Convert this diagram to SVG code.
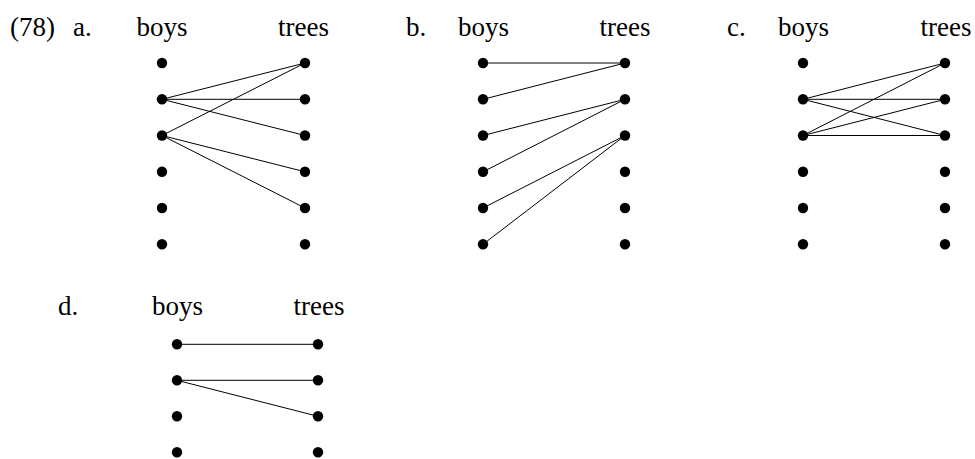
<svg xmlns="http://www.w3.org/2000/svg" width="975" height="459" viewBox="0 0 975 459">
<style>
text{font-family:"Liberation Serif","Times New Roman",serif;font-size:27px;fill:#000}
.e{stroke:#000;stroke-width:1;fill:none}
.d{fill:#000}
</style>
<defs><circle id="dot" r="5.2" class="d"/></defs>
<rect width="975" height="459" fill="#fff"/>
<g id="labels">
<text x="10" y="36">(78)</text>
<text x="73" y="36">a.</text>
<text x="406" y="36">b.</text>
<text x="727" y="36">c.</text>
<text x="58" y="315">d.</text>
</g>
<g id="connectors">
<line class="e" x1="162" y1="99.3" x2="305" y2="63"/>
<line class="e" x1="162" y1="99.3" x2="305" y2="99.3"/>
<line class="e" x1="162" y1="99.3" x2="305" y2="135.5"/>
<line class="e" x1="162" y1="135.5" x2="305" y2="63"/>
<line class="e" x1="162" y1="135.5" x2="305" y2="171.8"/>
<line class="e" x1="162" y1="135.5" x2="305" y2="208"/>
<line class="e" x1="483" y1="63" x2="625" y2="63"/>
<line class="e" x1="483" y1="99.3" x2="625" y2="63"/>
<line class="e" x1="483" y1="135.5" x2="625" y2="99.3"/>
<line class="e" x1="483" y1="171.8" x2="625" y2="99.3"/>
<line class="e" x1="483" y1="208" x2="625" y2="135.5"/>
<line class="e" x1="483" y1="244.3" x2="625" y2="135.5"/>
<line class="e" x1="803" y1="99.3" x2="945" y2="63"/>
<line class="e" x1="803" y1="99.3" x2="945" y2="99.3"/>
<line class="e" x1="803" y1="99.3" x2="945" y2="135.5"/>
<line class="e" x1="803" y1="135.5" x2="945" y2="63"/>
<line class="e" x1="803" y1="135.5" x2="945" y2="99.3"/>
<line class="e" x1="803" y1="135.5" x2="945" y2="135.5"/>
<line class="e" x1="177" y1="344.3" x2="318" y2="344.3"/>
<line class="e" x1="177" y1="380.3" x2="318" y2="380.3"/>
<line class="e" x1="177" y1="380.3" x2="318" y2="416.3"/>
</g>
<g id="a-boys"><text x="162" y="36" text-anchor="middle">boys</text>
<use href="#dot" x="162" y="63"/><use href="#dot" x="162" y="99.3"/><use href="#dot" x="162" y="135.5"/><use href="#dot" x="162" y="171.8"/><use href="#dot" x="162" y="208"/><use href="#dot" x="162" y="244.3"/></g>
<g id="a-trees"><text x="303.5" y="36" text-anchor="middle">trees</text>
<use href="#dot" x="305" y="63"/><use href="#dot" x="305" y="99.3"/><use href="#dot" x="305" y="135.5"/><use href="#dot" x="305" y="171.8"/><use href="#dot" x="305" y="208"/><use href="#dot" x="305" y="244.3"/></g>
<g id="b-boys"><text x="483.5" y="36" text-anchor="middle">boys</text>
<use href="#dot" x="483" y="63"/><use href="#dot" x="483" y="99.3"/><use href="#dot" x="483" y="135.5"/><use href="#dot" x="483" y="171.8"/><use href="#dot" x="483" y="208"/><use href="#dot" x="483" y="244.3"/></g>
<g id="b-trees"><text x="625" y="36" text-anchor="middle">trees</text>
<use href="#dot" x="625" y="63"/><use href="#dot" x="625" y="99.3"/><use href="#dot" x="625" y="135.5"/><use href="#dot" x="625" y="171.8"/><use href="#dot" x="625" y="208"/><use href="#dot" x="625" y="244.3"/></g>
<g id="c-boys"><text x="803.5" y="36" text-anchor="middle">boys</text>
<use href="#dot" x="803" y="63"/><use href="#dot" x="803" y="99.3"/><use href="#dot" x="803" y="135.5"/><use href="#dot" x="803" y="171.8"/><use href="#dot" x="803" y="208"/><use href="#dot" x="803" y="244.3"/></g>
<g id="c-trees"><text x="946" y="36" text-anchor="middle">trees</text>
<use href="#dot" x="945" y="63"/><use href="#dot" x="945" y="99.3"/><use href="#dot" x="945" y="135.5"/><use href="#dot" x="945" y="171.8"/><use href="#dot" x="945" y="208"/><use href="#dot" x="945" y="244.3"/></g>
<g id="d-boys"><text x="177.5" y="315" text-anchor="middle">boys</text>
<use href="#dot" x="177" y="344.3"/><use href="#dot" x="177" y="380.3"/><use href="#dot" x="177" y="416.3"/><use href="#dot" x="177" y="452.3"/></g>
<g id="d-trees"><text x="319" y="315" text-anchor="middle">trees</text>
<use href="#dot" x="318" y="344.3"/><use href="#dot" x="318" y="380.3"/><use href="#dot" x="318" y="416.3"/><use href="#dot" x="318" y="452.3"/></g>
</svg>
